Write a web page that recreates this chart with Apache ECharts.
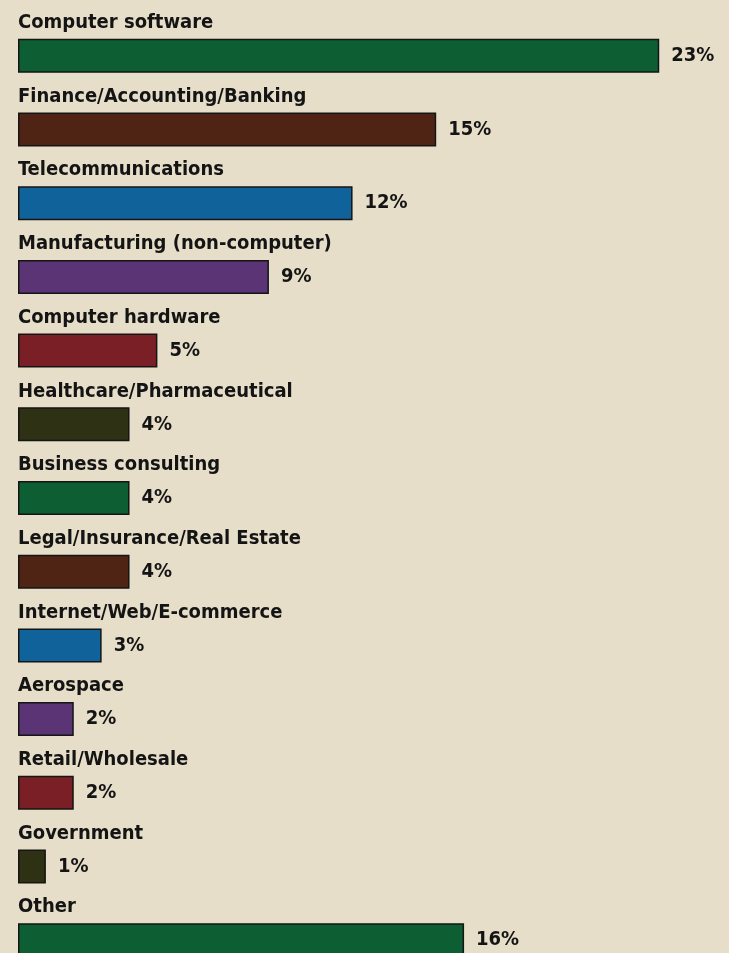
<!DOCTYPE html>
<html>
<head>
<meta charset="utf-8">
<title>Industry</title>
<script src="https://cdn.jsdelivr.net/npm/echarts@6/dist/echarts.min.js"></script>
<style>
  html, body { margin: 0; padding: 0; overflow: hidden; background: #e6dec9; }
  #chart { width: 729px; height: 980px; }
</style>
</head>
<body>
<div id="chart"></div>
<script>
var categories = ['Computer software', 'Finance/Accounting/Banking', 'Telecommunications',
  'Manufacturing (non-computer)', 'Computer hardware', 'Healthcare/Pharmaceutical',
  'Business consulting', 'Legal/Insurance/Real Estate', 'Internet/Web/E-commerce',
  'Aerospace', 'Retail/Wholesale', 'Government', 'Other']
var percents = [23, 15, 12, 9, 5, 4, 4, 4, 3, 2, 2, 1, 16]

// colour cycle used by the bars (green, brown, blue, purple, red, olive)
var palette = ['#0d5e32', '#4f2414', '#10629a', '#5a3474', '#7a1f25', '#2f3114']

var font = "'Liberation Sans Narrow', 'DejaVu Sans Condensed', sans-serif"

var chart = echarts.init(document.getElementById('chart'))

var option = {
  backgroundColor: '#e6dec9',
  animation: false,
  grid: {
    left: 18,
    right: 14,
    top: 19,
    bottom: 3
  },
  xAxis: {
    type: 'value',
    min: 0,
    max: 25,
    show: false
  },
  yAxis: {
    type: 'category',
    data: categories,
    inverse: true,
    show: false
  },
  series: [
    {
      // the bars with their percentage
      type: 'bar',
      barWidth: 34,
      data: percents.map(function (v, i) {
        return { value: v, itemStyle: { color: palette[i % palette.length] } }
      }),
      itemStyle: {
        borderColor: '#151515',
        borderWidth: 1.5
      },
      label: {
        show: true,
        position: 'right',
        distance: 12,
        formatter: '{c}%',
        fontFamily: font,
        fontWeight: 'bold',
        fontSize: 20,
        color: '#141414'
      }
    },
    {
      // invisible copy, only used to put the category name above each bar
      type: 'bar',
      barWidth: 34,
      barGap: '-100%',
      silent: true,
      data: percents,
      itemStyle: { color: 'rgba(0,0,0,0)' },
      label: {
        show: true,
        position: [0, -6],
        align: 'left',
        verticalAlign: 'bottom',
        formatter: '{b}',
        fontFamily: font,
        fontWeight: 'bold',
        fontSize: 20,
        color: '#141414'
      }
    }
  ]
}

chart.setOption(option)
window.onresize = function () { chart.resize() }
</script>
</body>
</html>
